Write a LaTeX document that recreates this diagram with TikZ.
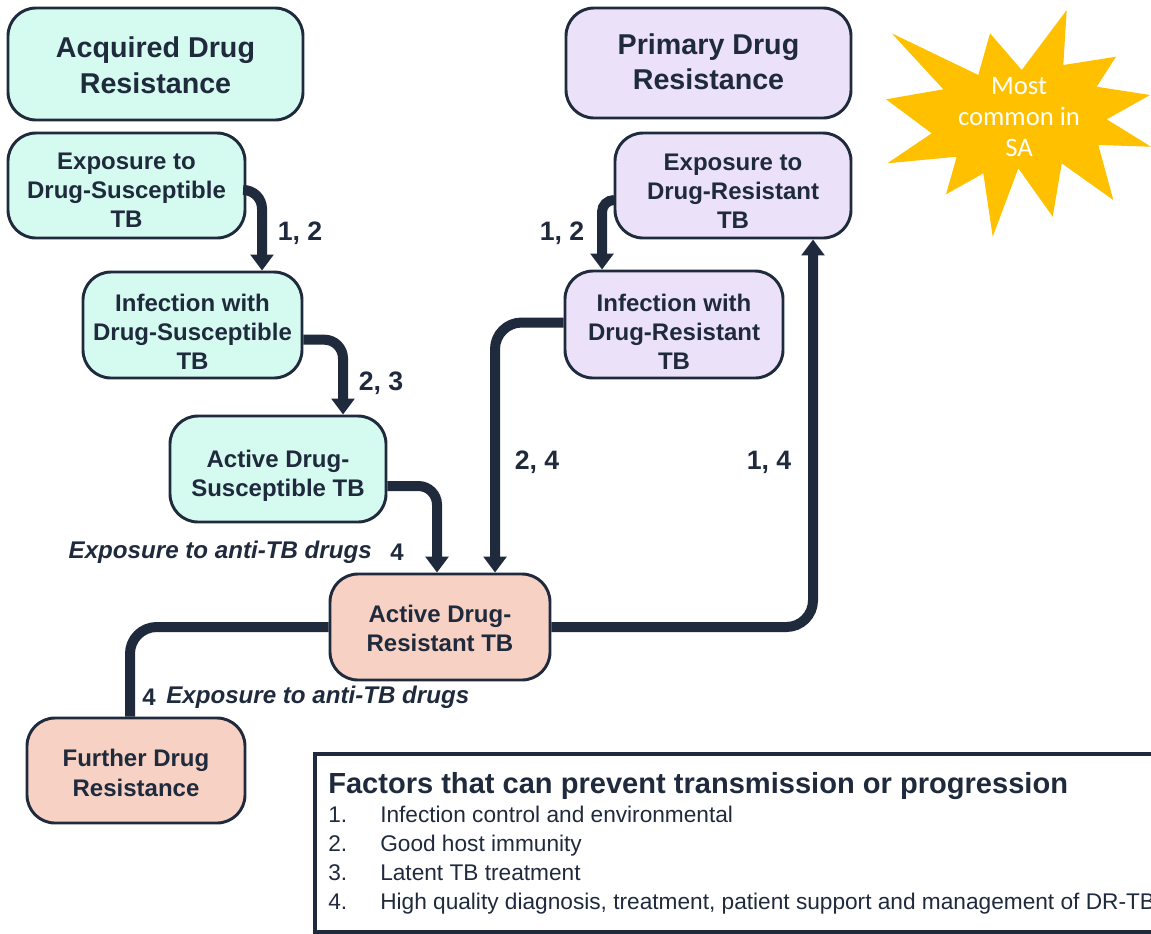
\documentclass[tikz,border=0pt]{standalone}
\usepackage{fontspec}
\setmainfont{Liberation Sans}
\newfontfamily\starfont{Carlito}
\usetikzlibrary{arrows.meta,calc}
\definecolor{ink}{HTML}{1F2A3D}
\definecolor{mint}{HTML}{D5FAF0}
\definecolor{lav}{HTML}{EBE1F8}
\definecolor{peach}{HTML}{F7D2C4}
\definecolor{gold}{HTML}{FFC000}
\newcommand{\bxtext}[2]{\raisebox{-#1}[\height][\depth]{\begin{tabular}{@{}c@{}}#2\end{tabular}}}
\begin{document}
\begin{tikzpicture}[x=0.75pt,y=-0.75pt,
  box/.style={draw=ink, line width=2.2pt, rounded corners=21pt, align=center, text=ink,
    font=\fontsize{18}{21.9}\selectfont\bfseries, inner sep=0pt},
  titlebox/.style={box, font=\fontsize{21.5}{26.5}\selectfont\bfseries},
  conn/.style={draw=ink, line width=7.5pt, rounded corners=14pt},
  arr/.style={conn, -{Triangle[width=17pt,length=12pt]}},
  lab/.style={text=ink, font=\fontsize{20}{24}\selectfont\bfseries, inner sep=0pt},
  ilab/.style={text=ink, font=\fontsize{18.1}{21}\selectfont\bfseries\itshape, inner sep=0pt},
  item/.style={text=ink, font=\fontsize{17}{20}\selectfont, inner sep=0pt, anchor=base west},
]
\useasboundingbox (0,0) rectangle (1151,933);
\clip (0,0) rectangle (1151,933);

% boxes
\node[titlebox, fill=mint, minimum width=221.25pt, minimum height=84pt] (ADR) at (155.5,64) {\bxtext{3.4pt}{Acquired Drug\\Resistance}};
\node[box, fill=mint, minimum width=177.75pt, minimum height=78.75pt] (ExpDS) at (126.5,185.5) {\bxtext{5.25pt}{Exposure to\\Drug-Susceptible\\TB}};
\node[box, fill=mint, minimum width=164.25pt, minimum height=79.5pt] (InfDS) at (192.5,325) {\bxtext{7.1pt}{Infection with\\Drug-Susceptible\\TB}};
\node[box, fill=mint, minimum width=162pt, minimum height=79.5pt] (ActDS) at (278,469) {\bxtext{5.25pt}{Active Drug-\\Susceptible TB}};
\node[box, fill=peach, minimum width=165pt, minimum height=79.5pt] (ActDR) at (440,627) {\bxtext{3.4pt}{Active Drug-\\Resistant TB}};
\node[box, fill=peach, minimum width=163.5pt, minimum height=78.75pt] (FurDR) at (136,770.5) {\bxtext{3.8pt}{Further Drug\\Resistance}};
\node[titlebox, fill=lav, minimum width=213.75pt, minimum height=82.5pt] (PDR) at (708.5,63) {\bxtext{1.2pt}{Primary Drug\\Resistance}};
\node[box, fill=lav, minimum width=177pt, minimum height=78.75pt] (ExpDR) at (733,185.5) {\bxtext{6pt}{Exposure to\\Drug-Resistant\\TB}};
\node[box, fill=lav, minimum width=163.5pt, minimum height=80.25pt] (InfDR) at (674,324.5) {\bxtext{7.5pt}{Infection with\\Drug-Resistant\\TB}};

% star
\fill[gold] (891.7,33.3) -- (978.3,75) -- (990,33.3) -- (1021.7,70) -- (1066.7,10) -- (1063.3,65)
  -- (1116,56.7) -- (1096.7,86.7) -- (1150,95) -- (1106.7,119.3) -- (1151,146.7) -- (1098.3,145)
  -- (1113.3,200) -- (1061.7,163.3) -- (1052.7,216.7) -- (1018.3,168.3) -- (992.7,236.7)
  -- (983.3,173.3) -- (946,194.3) -- (956.7,156.7) -- (887.3,163.3) -- (931.7,133.3)
  -- (886,99.3) -- (943.3,89.3) -- cycle;
\node[text=white, font=\starfont\fontsize{20}{23.6}\selectfont, align=center, inner sep=0pt] (startext) at (1019,117) {Most\\common in\\SA};

% connectors
\coordinate (xa) at (262,0);
\coordinate (xb) at (343,0);
\coordinate (xc) at (437,0);
\coordinate (xd) at (495,0);
\coordinate (xe) at (602,0);
\coordinate (xf) at (813,0);
\coordinate (xg) at (130,0);
\draw[arr] ([yshift=-3.4pt]ExpDS.east) -| (InfDS.north -| xa);
\draw[arr] ([yshift=-11pt]InfDS.east) -| (ActDS.north -| xb);
\draw[arr] ([yshift=-12.75pt]ActDS.east) -| (ActDR.north -| xc);
\draw[arr, rounded corners=20pt] ([yshift=1.5pt]InfDR.west) -| (ActDR.north -| xd);
\draw[arr, rounded corners=9pt] ([yshift=-10.9pt]ExpDR.west) -| (InfDR.north -| xe);
\draw[arr, rounded corners=20pt] (ActDR.east) -| (ExpDR.south -| xf);
\draw[conn, rounded corners=20pt] (ActDR.west) -| (FurDR.north -| xg);

% labels
\node[lab] (l1) at (300,233) {1, 2};
\node[lab] (l2) at (381,383) {2, 3};
\node[ilab, anchor=east] (l3) at (372,552) {Exposure to anti-TB drugs};
\node[lab, font=\fontsize{18}{22}\selectfont\bfseries] (l3n) at (397,552) {4};
\node[lab] (l4) at (537,462) {2, 4};
\node[lab] (l5) at (769,462) {1, 4};
\node[lab] (l6) at (562,233) {1, 2};
\node[lab, font=\fontsize{18}{22}\selectfont\bfseries] (l7n) at (149,697) {4};
\node[ilab, anchor=west] (l7) at (166,697) {Exposure to anti-TB drugs};

% factors box
\node[draw=ink, line width=3pt, anchor=north west, minimum width=660pt, minimum height=133.5pt, inner sep=0pt] (factors) at (313,752) {};
\node[text=ink, font=\fontsize{21.8}{26}\selectfont\bfseries, anchor=base west, inner sep=0pt] (ftitle) at (328,793) {Factors that can prevent transmission or progression};
\node[item] (n1) at (328,822) {1.};
\node[item] (t1) at (380,822) {Infection control and environmental};
\node[item] (n2) at (328,851) {2.};
\node[item] (t2) at (380,851) {Good host immunity};
\node[item] (n3) at (328,880) {3.};
\node[item] (t3) at (380,880) {Latent TB treatment};
\node[item] (n4) at (328,909) {4.};
\node[item] (t4) at (380,909) {High quality diagnosis, treatment, patient support and management of DR-TB};
\end{tikzpicture}
\end{document}
